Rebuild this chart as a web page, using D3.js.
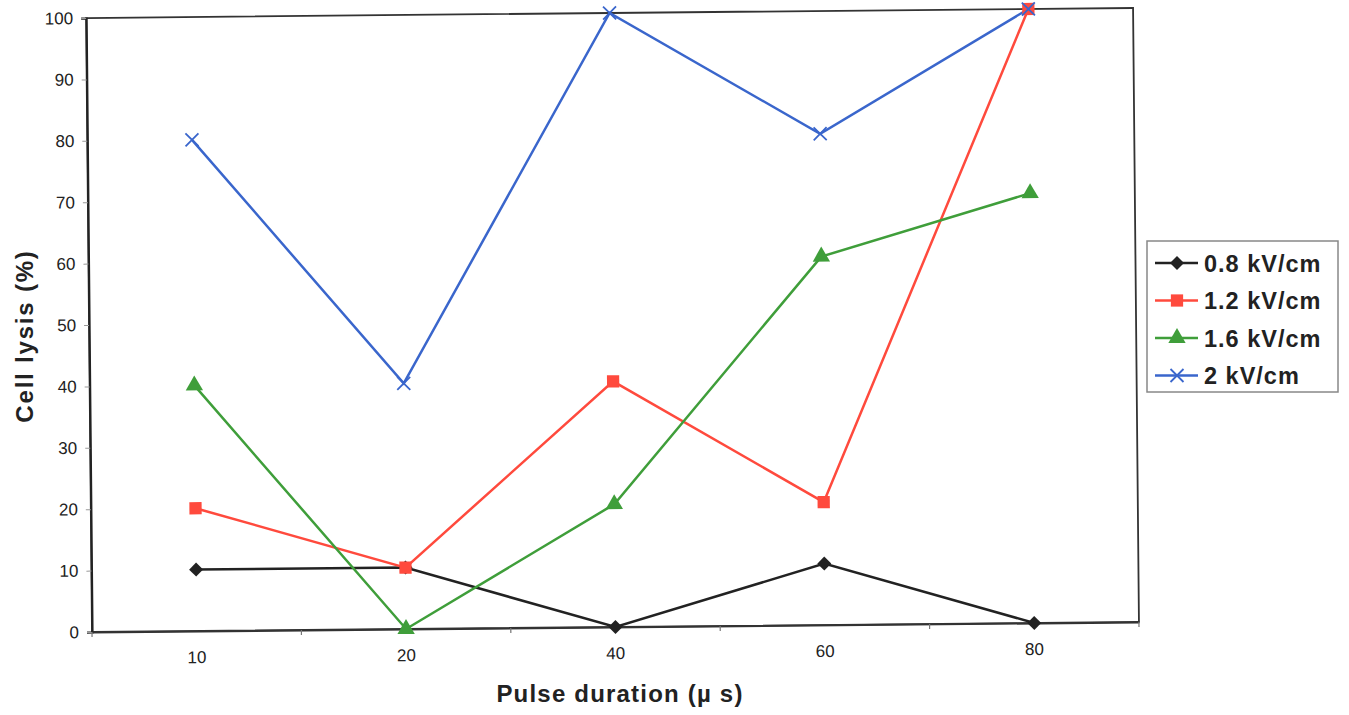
<!DOCTYPE html>
<html><head><meta charset="utf-8">
<script src="https://cdn.jsdelivr.net/npm/d3@7"></script>
<style>body{margin:0;background:#fff}svg{display:block}text{font-family:"Liberation Sans",Arial,sans-serif}</style>
</head><body>
<svg id="c" width="1349" height="715"></svg>
<script>
const categories = ["10", "20", "40", "60", "80"];
const seriesNames = ["0.8 kV/cm", "1.2 kV/cm", "1.6 kV/cm", "2 kV/cm"];
const s08 = [10, 10, 0, 10, 0];
const s12 = [20, 10, 40, 20, 100];
const s16 = [40, 0, 20, 60, 70];
const s20 = [80, 40, 100, 80, 100];
const yTicks = [0, 10, 20, 30, 40, 50, 60, 70, 80, 90, 100];
const colors = ["#222222", "#ff4a3d", "#3f9e3a", "#3a66cc"];
const markers = ["diamond", "square", "triangle", "cross"];
const series = [s08, s12, s16, s20];

const svg = d3.select("#c");
const L = 92, R = 1139, T = 18, B = 632;
const x = d3.scaleBand().domain(categories).range([L, R]);
const y = d3.scaleLinear().domain([0, 100]).range([B, T]);

const g = svg.append("g").attr("transform", `rotate(-0.55 ${L} ${B})`);

// frame
g.append("rect").attr("x", L).attr("y", T).attr("width", R - L).attr("height", B - T)
  .attr("fill", "none").attr("stroke", "#333").attr("stroke-width", 1.8);

// y axis
const ya = d3.axisLeft(y).tickValues(yTicks).tickSize(5).tickPadding(8);
const yg = g.append("g").attr("transform", `translate(${L},0)`).call(ya);
yg.select(".domain").attr("stroke", "#222").attr("stroke-width", 2.2);
yg.selectAll(".tick line").attr("stroke", "#999");
yg.selectAll("text").attr("font-size", 17).attr("fill", "#222");

// x axis: ticks at category boundaries
const xa = d3.axisBottom(x).tickSize(0).tickPadding(20);
const xg = g.append("g").attr("transform", `translate(0,${B})`).call(xa);
xg.select(".domain").attr("stroke", "#333").attr("stroke-width", 2);
xg.selectAll("text").attr("font-size", 17).attr("fill", "#222");
const bounds = categories.map(c => x(c)).concat([R]);
g.selectAll(".xb").data(bounds).join("line").attr("class", "xb")
  .attr("x1", d => d).attr("x2", d => d).attr("y1", B).attr("y2", B + 5)
  .attr("stroke", "#777").attr("stroke-width", 1.2);

function sym(type) {
  if (type === "square") return d3.symbol().type(d3.symbolSquare).size(150)();
  if (type === "triangle") return d3.symbol().type(d3.symbolTriangle).size(130)();
  return null;
}
function drawMarker(sel, type, color, cx, cy) {
  if (type === "cross") {
    const r = 6.5;
    sel.append("path").attr("d", `M${cx-r},${cy-r}L${cx+r},${cy+r}M${cx-r},${cy+r}L${cx+r},${cy-r}`)
      .attr("stroke", color).attr("stroke-width", 1.8).attr("fill", "none");
  } else if (type === "diamond") {
    const r = 7;
    sel.append("path").attr("d", `M${cx},${cy-r}L${cx+r},${cy}L${cx},${cy+r}L${cx-r},${cy}Z`)
      .attr("fill", color);
  } else {
    sel.append("path").attr("d", sym(type)).attr("transform", `translate(${cx},${cy})`)
      .attr("fill", color);
  }
}

const line = d3.line().x((d, i) => x(categories[i]) + x.bandwidth() / 2).y(d => y(d));
series.forEach((s, k) => {
  g.append("path").datum(s).attr("d", line).attr("fill", "none")
    .attr("stroke", colors[k]).attr("stroke-width", 2.5);
});
series.forEach((s, k) => {
  s.forEach((v, i) => drawMarker(g, markers[k], colors[k], x(categories[i]) + x.bandwidth() / 2, y(v)));
});

// axis titles
svg.append("text").attr("x", 620).attr("y", 702).attr("text-anchor", "middle")
  .attr("font-size", 24).attr("letter-spacing", 1.2).attr("font-weight", "bold").attr("fill", "#222")
  .text("Pulse duration (µ s)");
svg.append("text").attr("transform", "translate(33,336) rotate(-90)").attr("text-anchor", "middle")
  .attr("font-size", 24).attr("letter-spacing", 1.8).attr("font-weight", "bold").attr("fill", "#222").text("Cell lysis (%)");

// legend
const lg = svg.append("g");
lg.append("rect").attr("x", 1147).attr("y", 241).attr("width", 191).attr("height", 151)
  .attr("fill", "#fff").attr("stroke", "#888").attr("stroke-width", 1.5);
seriesNames.forEach((n, k) => {
  const ly = 263 + k * 37.5;
  lg.append("line").attr("x1", 1155).attr("x2", 1198).attr("y1", ly).attr("y2", ly)
    .attr("stroke", colors[k]).attr("stroke-width", 2.5);
  drawMarker(lg, markers[k], colors[k], 1177, ly);
  lg.append("text").attr("x", 1204).attr("y", ly + 8.5).attr("font-size", 23.5).attr("letter-spacing", 1)
    .attr("font-weight", "bold").attr("fill", "#222").text(n);
});
</script>
</body></html>
